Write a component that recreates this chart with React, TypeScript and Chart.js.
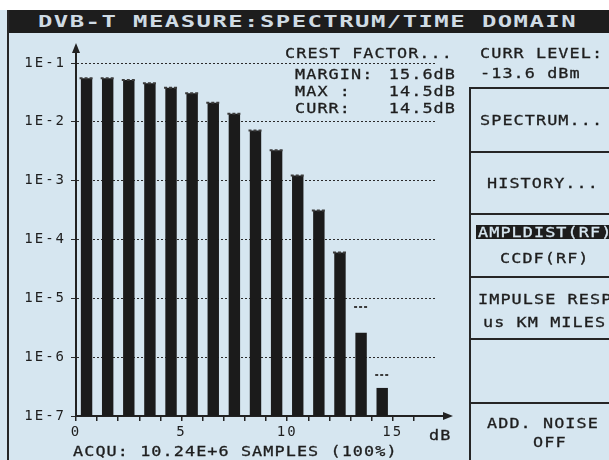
import React, { useEffect, useRef } from "react";
import { Chart, registerables } from "chart.js";

Chart.register(...registerables);

// ---- data ----
const dbBins = [0.5, 1.5, 2.5, 3.5, 4.5, 5.5, 6.5, 7.5, 8.5, 9.5, 10.5, 11.5, 12.5, 13.5, 14.5];
const currProbability = [0.055, 0.055, 0.0515, 0.0453, 0.0381, 0.0306, 0.0212, 0.0137, 0.0071, 0.0033, 0.00122, 0.00031, 0.00006, 0.0000026, 0.0000003];
const maxProbability = [0.055, 0.055, 0.0515, 0.0453, 0.0381, 0.0306, 0.0212, 0.0137, 0.0071, 0.0033, 0.00122, 0.00031, 0.00006, 0.0000071, 0.0000005];
const yTickValues = [1e-1, 1e-2, 1e-3, 1e-4, 1e-5, 1e-6, 1e-7];
const yTickLabels = ["1E-1", "1E-2", "1E-3", "1E-4", "1E-5", "1E-6", "1E-7"];
const xTickValues = [0, 5, 10, 15];
const xTickLabels = ["0", "5", "10", "15"];

const titleText = "DVB-T MEASURE:SPECTRUM/TIME DOMAIN";
const crestTitle = "CREST FACTOR...";
const crestRows = [
  { label: "MARGIN:", value: "15.6dB" },
  { label: "MAX :", value: "14.5dB" },
  { label: "CURR:", value: "14.5dB" },
];
const levelLabel = "CURR LEVEL:";
const levelValue = "-13.6 dBm";
const acquText = "ACQU: 10.24E+6 SAMPLES (100%)";
const unitText = "dB";

const MONO = "'DejaVu Sans Mono', monospace";
const INK = "#1e1e1e";
const BG = "#d6e6f0";

type TxtProps = {
  x?: number;
  right?: number;
  y: number;
  size?: number;
  spacing?: number;
  color?: string;
  bold?: boolean;
  scaleX?: number;
  children: React.ReactNode;
};

function Txt({ x, right, y, size = 14, spacing = 0.9, color = INK, bold = false, scaleX = 1.2, children }: TxtProps) {
  const lh = Math.round(size * 1.15);
  const top = y - (lh - 1.164 * size) / 2 - 0.5635 * size;
  const style: React.CSSProperties = {
    position: "absolute",
    top,
    fontFamily: MONO,
    fontSize: size,
    lineHeight: `${lh}px`,
    letterSpacing: spacing,
    color,
    whiteSpace: "pre",
    fontWeight: bold ? "bold" : "normal",
    WebkitTextStroke: bold ? undefined : `0.3px ${color}`,
    transform: scaleX !== 1 ? `scaleX(${scaleX})` : undefined,
    transformOrigin: right !== undefined ? "right center" : "left center",
  };
  if (right !== undefined) {
    style.right = 609 - right - spacing * scaleX;
    style.textAlign = "right";
  } else {
    style.left = x;
  }
  return <div style={style}>{children}</div>;
}

function Line({ x, y, w, h }: { x: number; y: number; w: number; h: number }) {
  return <div style={{ position: "absolute", left: x, top: y, width: w, height: h, background: "#262626" }} />;
}

const lcdPlugin = {
  id: "lcdDecor",
  beforeDraw(chart: any) {
    try {
      chart.ctx.letterSpacing = "2px";
    } catch (e) {}
  },
  beforeDatasetDraw(chart: any, args: any) {
    if (args.index === 1) chart.ctx.setLineDash([3, 2]);
  },
  afterDatasetDraw(chart: any, args: any) {
    if (args.index === 1) chart.ctx.setLineDash([]);
  },
  afterDraw(chart: any) {
    const { ctx, chartArea } = chart;
    const left = chartArea.left;
    const top = chartArea.top;
    const right = chartArea.right;
    const bottom = chartArea.bottom;
    ctx.save();
    ctx.setLineDash([]);
    ctx.fillStyle = "#222";
    ctx.strokeStyle = "#222";
    ctx.lineWidth = 2;
    // y axis arrow head
    ctx.beginPath();
    ctx.moveTo(left, top - 5);
    ctx.lineTo(left - 4, top + 5);
    ctx.lineTo(left + 4, top + 5);
    ctx.closePath();
    ctx.fill();
    // x axis extension + arrow head
    ctx.beginPath();
    ctx.moveTo(right, bottom);
    ctx.lineTo(right + 9, bottom);
    ctx.stroke();
    ctx.beginPath();
    ctx.moveTo(right + 18, bottom);
    ctx.lineTo(right + 8, bottom - 4);
    ctx.lineTo(right + 8, bottom + 4);
    ctx.closePath();
    ctx.fill();
    ctx.restore();
  },
};

function SpectrumChart() {
  const ref = useRef<HTMLCanvasElement>(null);
  useEffect(() => {
    if (!ref.current) return;
    const tickFont = { family: MONO, size: 14 };
    const chart = new Chart(ref.current, {
      type: "bar",
      data: {
        datasets: [
          {
            type: "bar",
            label: "CURR",
            data: dbBins.map((x, i) => ({ x, y: currProbability[i] })),
            backgroundColor: "#1b1b1b",
            borderWidth: 0,
            barPercentage: 0.54,
            categoryPercentage: 1,
            order: 2,
          } as any,
          {
            type: "scatter",
            label: "MAX",
            data: dbBins.map((x, i) => ({ x, y: maxProbability[i] })),
            pointStyle: "line",
            pointRadius: 7,
            pointHoverRadius: 7,
            borderColor: "#3c3c3c",
            borderWidth: 2,
            order: 1,
          } as any,
        ],
      },
      options: {
        responsive: false,
        animation: false,
        events: [],
        layout: { padding: { top: 15, right: 35, left: 0, bottom: 0 } },
        plugins: { legend: { display: false }, tooltip: { enabled: false } },
        scales: {
          x: {
            type: "linear",
            min: 0,
            max: 17,
            offset: false,
            grid: { display: true, drawOnChartArea: false, drawTicks: true, tickLength: 5, color: "#222", lineWidth: 1.5, offset: false },
            border: { display: true, color: "#222", width: 2 },
            ticks: {
              stepSize: 1,
              autoSkip: false,
              maxRotation: 0,
              padding: 3,
              color: INK,
              font: tickFont,
              callback: (v: any) => {
                const i = xTickValues.indexOf(Number(v));
                return i >= 0 ? xTickLabels[i] : "";
              },
            },
            afterBuildTicks: (s: any) => {
              s.ticks = s.ticks.filter((t: any) => t.value <= 16);
            },
            afterFit: (s: any) => {
              s.height = 44;
            },
          },
          y: {
            type: "logarithmic",
            min: 1e-7,
            max: 0.18,
            grid: { display: true, drawTicks: true, tickLength: 5, color: "#2a2a2a", lineWidth: 1 },
            border: { display: true, color: "#222", width: 2, dash: [2, 2] },
            ticks: {
              autoSkip: false,
              padding: 5,
              color: INK,
              font: tickFont,
              callback: (v: any) => {
                const i = yTickValues.indexOf(Number(v));
                return i >= 0 ? yTickLabels[i] : "";
              },
            },
            afterBuildTicks: (s: any) => {
              s.ticks = yTickValues.map((value) => ({ value }));
            },
            afterFit: (s: any) => {
              s.width = 76;
            },
          },
        },
      } as any,
      plugins: [lcdPlugin],
    });
    return () => chart.destroy();
  }, []);
  return <canvas ref={ref} width={470} height={427} style={{ display: "block", width: 470, height: 427 }} />;
}

export default function App() {
  return (
    <div style={{ position: "fixed", left: 0, top: 0, width: 609, height: 460, background: "#ffffff", overflow: "hidden" }}>
      <div style={{ position: "absolute", left: 0, top: 10, width: 609, height: 450, background: BG }} />
      {/* title bar */}
      <div style={{ position: "absolute", left: 7, top: 10, width: 602, height: 23, background: "#1d1d1d" }} />
      <Txt x={38} y={21.5} size={16.5} spacing={1} bold scaleX={1.45} color="#cfdbe4">
        {titleText}
      </Txt>
      {/* left screen edge */}
      <Line x={7} y={10} w={2} h={450} />

      {/* chart */}
      <div style={{ position: "absolute", left: 0, top: 33, width: 470, height: 427 }}>
        <SpectrumChart />
      </div>

      {/* crest factor readout */}
      <Txt x={285} y={53}>{crestTitle}</Txt>
      {crestRows.map((r, i) => (
        <React.Fragment key={r.label}>
          <Txt x={295} y={74 + i * 17}>{r.label}</Txt>
          <Txt right={455} y={74 + i * 17}>{r.value}</Txt>
        </React.Fragment>
      ))}

      <Txt x={73} y={451}>{acquText}</Txt>
      <Txt x={429} y={435}>{unitText}</Txt>

      {/* right soft-key panel */}
      <Txt x={480} y={53}>{levelLabel}</Txt>
      <Txt x={480} y={73}>{levelValue}</Txt>
      <Line x={469} y={87} w={2} h={373} />
      <Line x={469} y={87} w={140} h={2} />
      <Line x={469} y={151} w={140} h={2} />
      <Line x={469} y={213} w={140} h={2} />
      <Line x={469} y={276} w={140} h={2} />
      <Line x={469} y={338} w={140} h={2} />
      <Line x={469} y={402} w={140} h={2} />
      <Txt x={480} y={120}>SPECTRUM...</Txt>
      <Txt x={487} y={183}>HISTORY...</Txt>
      <div style={{ position: "absolute", left: 476, top: 225, width: 133, height: 14, background: "#1d1d1d" }} />
      <Txt x={478} y={232} color="#d6e6f0">AMPLDIST(RF)</Txt>
      <Txt x={500} y={258}>CCDF(RF)</Txt>
      <Txt x={478} y={299}>IMPULSE RESP</Txt>
      <Txt x={483} y={322}>us KM MILES</Txt>
      <Txt x={487} y={423}>ADD. NOISE</Txt>
      <Txt x={533} y={442}>OFF</Txt>
    </div>
  );
}
